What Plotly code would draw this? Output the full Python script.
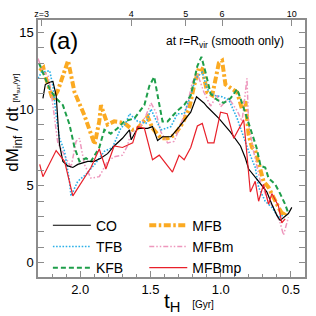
import plotly.graph_objects as go

# ---------------- data (cosmic time t_H in Gyr, dM/dt in Msun/yr) ----------------
co_t = [2.265, 2.248, 2.217, 2.194, 2.171, 2.159, 2.147, 2.123, 2.088, 2.052, 2.017, 1.946, 1.899, 1.854,
        1.805, 1.758, 1.699, 1.649, 1.637, 1.591, 1.520, 1.485, 1.449, 1.414, 1.354, 1.308, 1.248, 1.213,
        1.172, 1.119, 1.096, 1.013, 0.930, 0.859, 0.824, 0.801, 0.730, 0.671, 0.636, 0.601, 0.577, 0.553,
        0.518, 0.494]
co_v = [10.7, 11.6, 11.75, 11.8, 10.9, 9.4, 7.7, 6.6, 6.3, 6.2, 6.4, 6.6, 6.6, 6.8,
        7.1, 7.6, 8.1, 8.65, 8.0, 8.75, 8.75, 8.86, 7.95, 8.2, 8.2, 8.7, 9.4, 9.8,
        10.8, 10.4, 10.15, 9.4, 8.5, 7.6, 6.8, 6.1, 5.3, 4.6, 3.8, 3.1, 2.75, 2.96,
        3.2, 3.6]

tfb_t = [2.300, 2.274, 2.217, 2.194, 2.171, 2.147, 2.111, 2.076, 2.065, 2.017, 1.958, 1.888, 1.828, 1.770,
         1.711, 1.676, 1.649, 1.591, 1.531, 1.496, 1.461, 1.425, 1.354, 1.308, 1.260, 1.213, 1.178, 1.131,
         1.096, 1.048, 0.990, 0.942, 0.883, 0.836, 0.801, 0.754, 0.730, 0.683, 0.636, 0.589, 0.553]
tfb_v = [12.0, 12.4, 12.5, 11.5, 9.6, 8.1, 7.25, 5.3, 4.35, 5.3, 5.75, 6.5, 7.25, 7.5,
         8.75, 9.07, 9.7, 9.2, 9.07, 10.0, 9.3, 8.65, 8.86, 9.7, 9.7, 10.9, 12.0, 12.4,
         11.3, 10.9, 10.8, 10.6, 9.4, 8.1, 7.25, 6.2, 4.9, 4.0, 3.6, 2.96, 3.1]

kfb_t = [2.293, 2.253, 2.217, 2.171, 2.123, 2.076, 2.040, 2.005, 1.958, 1.923, 1.864, 1.828, 1.782, 1.734,
         1.685, 1.614, 1.543, 1.508, 1.473, 1.449, 1.414, 1.378, 1.308, 1.260, 1.213, 1.166, 1.137, 1.105,
         1.072, 1.025, 0.978, 0.930, 0.883, 0.848, 0.813, 0.766, 0.745, 0.716, 0.683, 0.659, 0.612, 0.577,
         0.541, 0.518]
kfb_v = [13.0, 12.1, 11.3, 10.7, 10.26, 9.0, 7.5, 6.6, 6.8, 6.6, 7.5, 8.65, 8.4, 8.75,
         9.2, 9.4, 10.26, 11.5, 12.1, 10.9, 9.2, 9.2, 9.9, 10.26, 10.9, 12.8, 13.4, 12.3,
         11.0, 10.6, 10.4, 10.7, 11.3, 10.4, 9.4, 8.0, 7.5, 6.3, 6.2, 5.5, 5.1, 4.5,
         3.8, 3.2]

mfb_t = [2.288, 2.262, 2.253, 2.194, 2.159, 2.086, 2.040, 1.970, 1.897, 1.864, 1.852, 1.805, 1.758, 1.687,
         1.626, 1.591, 1.520, 1.485, 1.425, 1.378, 1.331, 1.272, 1.225, 1.190, 1.154, 1.131, 1.096, 1.060,
         1.013, 0.990, 0.966, 0.930, 0.883, 0.848, 0.824, 0.801, 0.777, 0.754, 0.718, 0.695, 0.659, 0.612,
         0.577, 0.553, 0.530]
mfb_v = [12.5, 12.7, 12.3, 10.6, 11.2, 13.15, 11.1, 9.6, 7.7, 9.2, 10.25, 9.0, 9.2, 9.1,
         8.65, 8.75, 9.5, 8.75, 8.1, 8.1, 8.3, 9.07, 10.0, 11.5, 12.7, 12.6, 11.1, 10.9,
         13.0, 13.15, 11.6, 11.4, 11.1, 10.0, 10.5, 8.3, 7.5, 7.3, 6.1, 5.3, 4.9, 4.0,
         3.4, 3.07, 3.4]

mfbm_t = [2.300, 2.265, 2.229, 2.206, 2.182, 2.159, 2.135, 2.100, 2.065, 2.029, 2.005, 1.970, 1.923, 1.864,
          1.805, 1.758, 1.699, 1.664, 1.637, 1.579, 1.531, 1.496, 1.461, 1.425, 1.378, 1.331, 1.284, 1.237,
          1.202, 1.166, 1.119, 1.072, 1.025, 1.001, 0.942, 0.883, 0.848, 0.813, 0.801, 0.766, 0.718, 0.671,
          0.624, 0.577, 0.553, 0.518]
mfbm_v = [13.3, 12.4, 12.2, 11.1, 9.4, 7.8, 7.4, 6.8, 6.2, 7.9, 8.1, 6.4, 5.5, 5.6,
          6.6, 6.9, 7.0, 7.6, 8.5, 8.75, 9.6, 10.4, 9.8, 8.5, 7.8, 7.9, 9.0, 10.26,
          11.75, 12.3, 11.1, 10.2, 10.9, 10.15, 10.7, 9.9, 9.2, 12.0, 9.0, 7.25, 5.3, 4.25,
          3.6, 2.6, 1.8, 2.96]

mfbmp_t = [2.288, 2.265, 2.171, 2.111, 2.052, 1.994, 1.923, 1.864, 1.817, 1.758, 1.699, 1.626, 1.591, 1.543,
           1.485, 1.437, 1.343, 1.296, 1.260, 1.213, 1.166, 1.131, 1.091, 1.048, 1.001, 0.954, 0.907, 0.836,
           0.789, 0.754, 0.730, 0.695, 0.659, 0.636, 0.589, 0.565, 0.541]
mfbmp_v = [6.4, 5.6, 7.3, 6.6, 4.35, 5.2, 6.2, 7.4, 6.1, 7.6, 7.5, 7.8, 8.86, 8.75,
           6.7, 7.0, 5.9, 7.0, 6.7, 7.5, 8.9, 9.07, 7.8, 7.8, 9.8, 9.7, 8.1, 9.3,
           4.6, 5.3, 4.0, 5.1, 3.8, 4.5, 3.7, 2.6, 2.85]

# top axis: redshift marks (positions in t_H)
z_tick_t = [2.274, 1.637, 1.248, 0.990, 0.494]
z_tick_text = ["z=3", "4", "5", "6", "10"]

FONT = "Liberation Sans, Arial, sans-serif"
AXC = "#8c8c8c"

fig = go.Figure()

# drawing order (bottom to top); legend order set by legendrank
series = [
    ("MFB", mfb_t, mfb_v, dict(color="#FBAA22", width=4, dash="7px,2.5px,2.5px,2.5px"), 4, "legend2"),
    ("MFBm", mfbm_t, mfbm_v, dict(color="#EE97BD", width=1.5, dash="5px,2px,1.5px,2px,1.5px,2px"), 5, "legend2"),
    ("TFB", tfb_t, tfb_v, dict(color="#2BB0E8", width=1.6, dash="1.6px,1.6px"), 2, "legend"),
    ("KFB", kfb_t, kfb_v, dict(color="#1E9E4A", width=2, dash="5px,3px"), 3, "legend"),
    ("CO", co_t, co_v, dict(color="#000000", width=1.2), 1, "legend"),
    ("MFBmp", mfbmp_t, mfbmp_v, dict(color="#E8202A", width=1.2), 6, "legend2"),
]
for name, t, v, ln, rank, leg in series:
    fig.add_trace(go.Scatter(x=t, y=v, mode="lines", name=name, line=ln,
                             legendrank=rank, legend=leg))

fig.update_layout(
    width=316, height=316,
    margin=dict(l=38, r=9, t=17, b=39),
    paper_bgcolor="white", plot_bgcolor="white",
    font=dict(family=FONT, color="black", size=13),
    showlegend=True,
    legend=dict(x=0.037, y=0.262, xanchor="left", yanchor="top", bgcolor="rgba(0,0,0,0)",
                font=dict(size=14, family=FONT), tracegroupgap=0, itemwidth=38),
    legend2=dict(x=0.398, y=0.262, xanchor="left", yanchor="top", bgcolor="rgba(0,0,0,0)",
                 font=dict(size=14, family=FONT), tracegroupgap=0, itemwidth=38),
    xaxis=dict(range=[2.3, 0.4], showgrid=False, zeroline=False,
               showline=True, linecolor=AXC, linewidth=1.5, mirror=True,
               ticks="inside", ticklen=6, tickcolor=AXC, tickwidth=1,
               tick0=0.5, dtick=0.5, tickformat=".1f", tickfont=dict(size=13),
               minor=dict(dtick=0.1, tick0=0.5, ticks="inside", ticklen=3, tickcolor=AXC)),
    xaxis2=dict(overlaying="x", side="top", anchor="y", range=[2.3, 0.4],
                showgrid=False, zeroline=False, showline=False,
                tickmode="array", tickvals=z_tick_t, ticktext=z_tick_text,
                ticks="inside", ticklen=6, tickcolor=AXC, tickfont=dict(size=9)),
    yaxis=dict(range=[-0.93, 15.8], showgrid=False, zeroline=False,
               showline=True, linecolor=AXC, linewidth=1.5, mirror="allticks",
               ticks="inside", ticklen=6, tickcolor=AXC, tickwidth=1,
               tick0=0, dtick=5, tickfont=dict(size=13),
               minor=dict(dtick=1, tick0=0, ticks="inside", ticklen=3, tickcolor=AXC)),
)

# invisible trace to activate the top axis
fig.add_trace(go.Scatter(x=[], y=[], xaxis="x2", showlegend=False, hoverinfo="skip"))

fig.add_annotation(text="(a)", xref="paper", yref="paper", x=0.097, y=0.919,
                   xanchor="center", yanchor="middle",
                   showarrow=False, font=dict(size=24, family=FONT))
fig.add_annotation(text="at r=R<sub>vir</sub> (smooth only)", xref="paper", yref="paper",
                   x=0.93, y=0.915, xanchor="right", yanchor="middle",
                   showarrow=False, font=dict(size=12, family=FONT))
fig.add_annotation(text="dM<sub>inf</sub> / dt <span style='font-size:8px'>[M<sub>sun</sub>/yr]</span>",
                   xref="paper", yref="paper", x=-0.09, y=0.6, textangle=-90,
                   xanchor="center", yanchor="middle",
                   showarrow=False, font=dict(size=17, family=FONT))
fig.add_annotation(text="t<sub>H</sub>  <span style='font-size:10px'>[Gyr]</span>",
                   xref="paper", yref="paper", x=0.566, y=-0.096, xanchor="center", yanchor="middle",
                   showarrow=False, font=dict(size=21, family=FONT))

fig.write_html("out.html", config={"displayModeBar": False},
               post_script="document.body.style.margin='0';")
